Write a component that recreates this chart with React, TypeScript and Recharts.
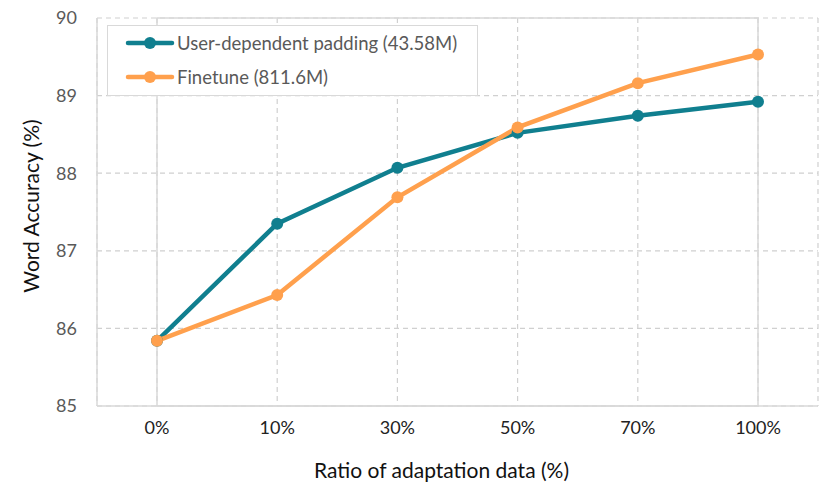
import React from "react";
import {
  LineChart,
  Line,
  XAxis,
  YAxis,
  CartesianGrid,
  ReferenceArea,
} from "recharts";

const ratios = ["0%", "10%", "30%", "50%", "70%", "100%"];
const paddingAcc = [85.84, 87.35, 88.07, 88.52, 88.74, 88.92];
const finetuneAcc = [85.84, 86.43, 87.69, 88.59, 89.16, 89.53];
const yTicks = [85, 86, 87, 88, 89, 90];

const TEAL = "#107F8F";
const ORANGE = "#FFA04D";
const FONT = "Lato, 'Open Sans', sans-serif";

const data = ratios.map((r, i) => ({
  ratio: r,
  padding: paddingAcc[i],
  finetune: finetuneAcc[i],
}));

const legendItems = [
  { label: "User-dependent padding (43.58M)", color: TEAL },
  { label: "Finetune (811.6M)", color: ORANGE },
];

const LegendBox = () => (
  <div
    style={{
      position: "absolute",
      left: 107,
      top: 25,
      border: "1.5px solid #d9d9d9",
      background: "#fff",
      width: 371,
      height: 71,
      boxSizing: "border-box",
      padding: "0 0 0 17px",
      fontFamily: FONT,
      fontSize: 18.5,
      color: "#595959",
    }}
  >
    {legendItems.map((it) => (
      <div
        key={it.label}
        style={{ display: "flex", alignItems: "center", height: 34 }}
      >
        <svg width={50} height={16} style={{ marginRight: 2 }}>
          <line x1={3} y1={8} x2={47} y2={8} stroke={it.color} strokeWidth={4.5} strokeLinecap="round" />
          <circle cx={25} cy={8} r={6} fill={it.color} />
        </svg>
        <span>{it.label}</span>
      </div>
    ))}
  </div>
);

export default function App() {
  return (
    <div style={{ position: "absolute", left: 0, top: 0, background: "#fff", width: 830, height: 485 }}>
      <LineChart
        width={830}
        height={485}
        data={data}
        margin={{ top: 18, right: 12, left: 37, bottom: 29 }}
      >
        <CartesianGrid stroke="#d0d0d0" strokeDasharray="5 4" strokeWidth={1.2} />
        <ReferenceArea y1={85} y2={90} fill="none" stroke="#d9d9d9" strokeWidth={1.5} />
        <XAxis
          dataKey="ratio"
          padding={{ left: 60, right: 60 }}
          axisLine={{ stroke: "#d9d9d9", strokeWidth: 1.5 }}
          tickLine={false}
          tickSize={0}
          tickMargin={15}
          height={50}
          tick={{ fill: "#222", fontSize: 18, fontFamily: FONT }}
          label={{
            value: "Ratio of adaptation data (%)",
            position: "insideBottom",
            offset: -22,
            dx: -16,
            fill: "#111",
            fontSize: 21,
            fontFamily: FONT,
          }}
        />
        <YAxis
          domain={[85, 90]}
          ticks={yTicks}
          axisLine={{ stroke: "#d9d9d9", strokeWidth: 1.5 }}
          tickLine={false}
          tickSize={0}
          tickMargin={20}
          width={60}
          tick={{ fill: "#595959", fontSize: 18, fontFamily: FONT }}
          label={{
            value: "Word Accuracy (%)",
            angle: -90,
            position: "insideLeft",
            offset: -5,
            dy: -6,
            style: { textAnchor: "middle" },
            fill: "#111",
            fontSize: 21,
            fontFamily: FONT,
          }}
        />
        <Line
          dataKey="padding"
          stroke={TEAL}
          strokeWidth={4.5}
          dot={{ r: 6, fill: TEAL, stroke: TEAL, strokeWidth: 0 }}
          isAnimationActive={false}
        />
        <Line
          dataKey="finetune"
          stroke={ORANGE}
          strokeWidth={4.5}
          dot={{ r: 6, fill: ORANGE, stroke: ORANGE, strokeWidth: 0 }}
          isAnimationActive={false}
        />
      </LineChart>
      <LegendBox />
    </div>
  );
}
